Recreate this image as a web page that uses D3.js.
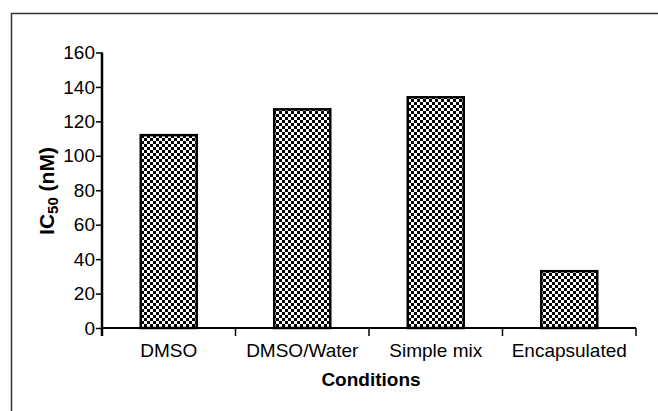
<!DOCTYPE html>
<html><head><meta charset="utf-8">
<script src="https://cdn.jsdelivr.net/npm/d3@7"></script>
<style>html,body{margin:0;padding:0;background:#fff;}svg{display:block;}</style>
</head><body>
<script>
const categories = ["DMSO", "DMSO/Water", "Simple mix", "Encapsulated"];
const values = [112, 127, 134, 33];
const yTicks = [0, 20, 40, 60, 80, 100, 120, 140, 160];

const W = 658, H = 411;
const svg = d3.select("body").append("svg").attr("width", W).attr("height", H);
const font = "'Liberation Sans', Arial, Helvetica, sans-serif";
const fs = 19;

// pattern
const defs = svg.append("defs");
const pat = defs.append("pattern").attr("id", "checker").attr("patternUnits", "userSpaceOnUse")
  .attr("width", 6).attr("height", 6);
pat.append("rect").attr("width", 6).attr("height", 6).attr("fill", "#fff");
pat.append("rect").attr("width", 3).attr("height", 3).attr("fill", "#000");
pat.append("rect").attr("x", 3).attr("y", 3).attr("width", 3).attr("height", 3).attr("fill", "#000");

// frame
svg.append("path").attr("d", `M11.5,${H} L11.5,13.5 L${W},13.5`).attr("fill", "none")
  .attr("stroke", "#333").attr("stroke-width", 1.5);

const x0 = 102, x1 = 636, yTop = 52.5, yBot = 328;
const x = d3.scaleBand().domain(categories).range([x0, x1]).paddingInner(0).paddingOuter(0);
const y = d3.scaleLinear().domain([0, 160]).range([yBot, yTop]);

const bw = 56;
svg.append("g").selectAll("rect").data(values).join("rect")
  .attr("x", (d, i) => x(categories[i]) + x.bandwidth() / 2 - bw / 2)
  .attr("y", d => y(d))
  .attr("width", bw)
  .attr("height", d => yBot - y(d))
  .attr("fill", "url(#checker)")
  .attr("stroke", "#000").attr("stroke-width", 2.5);

// y axis
const gy = svg.append("g").attr("transform", `translate(${x0},0)`)
  .call(d3.axisLeft(y).tickValues(yTicks).tickSize(6).tickPadding(1).tickFormat(d3.format("d")));
gy.select(".domain").attr("stroke", "#000").attr("stroke-width", 2.5).attr("d", `M0,${yTop}V${yBot}`);
gy.selectAll(".tick line").attr("stroke", "#000").attr("stroke-width", 1.5);
gy.selectAll(".tick text").attr("font-family", font).attr("font-size", fs).attr("fill", "#000");

// x axis
const gx = svg.append("g").attr("transform", `translate(0,${yBot})`);
gx.append("line").attr("x1", x0 - 1).attr("x2", x1).attr("y1", 0).attr("y2", 0)
  .attr("stroke", "#000").attr("stroke-width", 2);
const bounds = categories.map(c => x(c)).concat([x1]);
gx.selectAll("line.tk").data(bounds).join("line").attr("class", "tk")
  .attr("x1", d => d).attr("x2", d => d).attr("y1", 0).attr("y2", 8)
  .attr("stroke", "#000").attr("stroke-width", d => d === x0 ? 2.5 : 1.5);
gx.selectAll("text").data(categories).join("text")
  .attr("x", d => x(d) + x.bandwidth() / 2).attr("y", 29)
  .attr("text-anchor", "middle").attr("font-family", font).attr("font-size", fs).attr("fill", "#000")
  .text(d => d);

// axis titles
svg.append("text").attr("x", 371).attr("y", 386).attr("text-anchor", "middle")
  .attr("font-family", font).attr("font-size", fs).attr("font-weight", "bold").text("Conditions");

const yl = svg.append("text").attr("transform", "translate(54,191) rotate(-90)")
  .attr("text-anchor", "middle").attr("font-family", font).attr("font-size", 21).attr("font-weight", "bold");
yl.append("tspan").text("IC");
yl.append("tspan").attr("font-size", 15).attr("dy", 4).text("50");
yl.append("tspan").attr("dy", -4).text(" (nM)");
</script>
</body></html>
